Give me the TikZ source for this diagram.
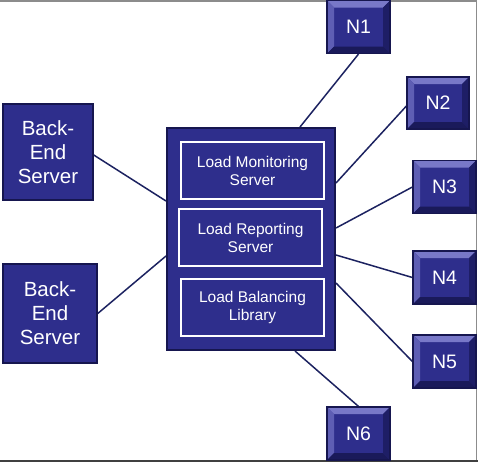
\documentclass[tikz,border=0pt]{standalone}
\usepackage{fontspec}
\setmainfont{Liberation Sans}
\usetikzlibrary{backgrounds}
\definecolor{face}{HTML}{2E2E8C}
\definecolor{edgec}{HTML}{16164F}
\definecolor{bevtop}{HTML}{7878C8}
\definecolor{bevleft}{HTML}{5E5EB4}
\definecolor{bevright}{HTML}{1E1E66}
\definecolor{bevbot}{HTML}{1A1A5A}
\definecolor{linec}{HTML}{1C2260}
\tikzset{
  bebox/.style={draw=edgec, line width=1.5pt, fill=face, text=white, align=center,
    font=\fontsize{20.5}{24}\selectfont, inner sep=0pt},
  bigbox/.style={draw=edgec, line width=2pt, fill=face, inner sep=0pt},
  innerbox/.style={draw=white, line width=1.3pt, fill=face, text=white, align=center,
    font=\fontsize{15.5}{18}\selectfont, minimum width=143pt, minimum height=57pt, inner sep=0pt},
  nbox/.style={draw=edgec, line width=1.2pt, fill=face, text=white,
    font=\fontsize{19.5}{22}\selectfont, minimum width=63pt, minimum height=53pt, inner sep=0pt,
    path picture={
      \coordinate (pnw) at (path picture bounding box.north west);
      \coordinate (pne) at (path picture bounding box.north east);
      \coordinate (psw) at (path picture bounding box.south west);
      \coordinate (pse) at (path picture bounding box.south east);
      \fill[bevtop] (pnw) -- (pne) -- ([xshift=-7pt,yshift=-7pt]pne) -- ([xshift=7pt,yshift=-7pt]pnw) -- cycle;
      \fill[bevleft] (pnw) -- (psw) -- ([xshift=7pt,yshift=7pt]psw) -- ([xshift=7pt,yshift=-7pt]pnw) -- cycle;
      \fill[bevright] (pne) -- (pse) -- ([xshift=-7pt,yshift=7pt]pse) -- ([xshift=-7pt,yshift=-7pt]pne) -- cycle;
      \fill[bevbot] (psw) -- (pse) -- ([xshift=-7pt,yshift=7pt]pse) -- ([xshift=7pt,yshift=7pt]psw) -- cycle;
    }},
  conn/.style={draw=linec, line width=1.5pt}
}
\begin{document}
\begin{tikzpicture}[x=1pt,y=-1pt]
\useasboundingbox (0,0) rectangle (479,466);
% frame
\draw[gray!90, line width=1.5pt] (0,0.75) -- (476.5,0.75) -- (476.5,461);
\draw[black!75, line width=2.2pt] (0,461) -- (477.5,461);
% nodes
\node[bebox, minimum width=90pt, minimum height=96pt] (be1) at (48,152) {Back-\\End\\Server};
\node[bebox, minimum width=94pt, minimum height=99pt] (be2) at (50,313.5) {Back-\\End\\Server};
\node[bigbox, minimum width=168pt, minimum height=222pt] (lb) at (251,239) {};
\node[innerbox] (lms) at (252.5,170.5) {Load Monitoring\\Server};
\node[innerbox] (lrs) at (250.5,237.5) {Load Reporting\\Server};
\node[innerbox] (lbl) at (252.5,307.5) {Load Balancing\\Library};
\node[nbox] (n1) at (358.5,27) {N1};
\node[nbox, minimum width=62pt, minimum height=52pt] (n2) at (438,103) {N2};
\node[nbox] (n3) at (444.5,187) {N3};
\node[nbox] (n4) at (444.5,277.5) {N4};
\node[nbox] (n5) at (444.5,361.5) {N5};
\node[nbox] (n6) at (358.5,433.5) {N6};
% connectors
\begin{scope}[on background layer]
\draw[conn] ([yshift=-3pt]be1.east) -- ([yshift=38pt]lb.west);
\draw[conn] (be2.east) -- ([yshift=-17pt]lb.west);
\draw[conn] (n1.south) -- ([xshift=49pt]lb.north);
\draw[conn] ([yshift=-3pt]n2.west) -- ([yshift=56pt]lb.east);
\draw[conn] (n3.west) -- ([yshift=11pt]lb.east);
\draw[conn] (n4.west) -- ([yshift=-16pt]lb.east);
\draw[conn] (n5.west) -- ([yshift=-44pt]lb.east);
\draw[conn] (n6.north) -- ([xshift=44pt]lb.south);
\end{scope}
\end{tikzpicture}
\end{document}
